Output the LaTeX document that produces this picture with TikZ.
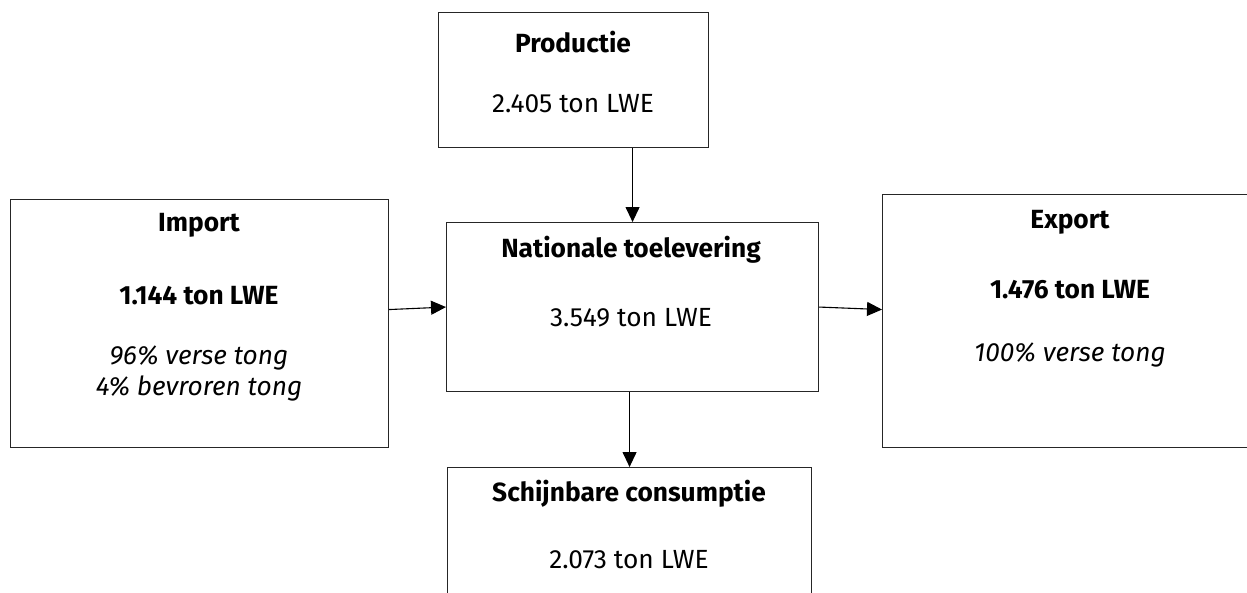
\documentclass[tikz,border=0pt]{standalone}
\usepackage{fontspec}
\setmainfont{Fira Sans}
\usetikzlibrary{arrows.meta}
\begin{document}
\begin{tikzpicture}[x=1pt,y=-1pt,
  box/.style={draw=black!85,line width=1.1pt,anchor=north west,inner sep=0pt},
  txt/.style={font=\fontsize{26.3}{30}\selectfont,inner sep=0pt,anchor=center},
  btxt/.style={txt,font=\fontsize{26.3}{30}\selectfont\bfseries},
  itxt/.style={txt,font=\fontsize{26.3}{30}\selectfont\itshape},
  arr/.style={line width=1.1pt,-{Triangle[length=15pt,width=14pt]}}]
\useasboundingbox (0,0) rectangle (1247,592);
\begin{scope}
\clip (0,0) rectangle (1247,592);
\node[box,minimum width=270pt,minimum height=135pt] (prod) at (438,12) {};
\node[box,minimum width=378pt,minimum height=248pt] (imp) at (10,199) {};
\node[box,minimum width=372pt,minimum height=169pt] (nat) at (446,222) {};
\node[box,minimum width=380pt,minimum height=253pt] (exp) at (882,194) {};
\node[box,minimum width=364pt,minimum height=160pt] (cons) at (447,467) {};
\end{scope}
\node[btxt] (t1) at (573,42) {Productie};
\node[txt] (t2) at (573,104) {2.405 ton LWE};
\node[btxt] (t3) at (199,225) {Import};
\node[btxt] (t4) at (199,296) {1.144 ton LWE};
\node[itxt] (t5) at (199,358) {96\% verse tong};
\node[itxt] (t6) at (199,388) {4\% bevroren tong};
\node[btxt] (t7) at (631,250) {Nationale toelevering};
\node[txt] (t8) at (631,318) {3.549 ton LWE};
\node[btxt] (t9) at (1070,222) {Export};
\node[btxt] (t10) at (1070,290) {1.476 ton LWE};
\node[itxt] (t11) at (1070,355) {100\% verse tong};
\node[btxt] (t12) at (629,494) {Schijnbare consumptie};
\node[txt] (t13) at (629,560) {2.073 ton LWE};
\draw[arr] (prod.south -| nat.north) -- (nat.north);
\draw[arr] ([yshift=14pt]imp.east) -- (nat.west);
\draw[arr] (nat.east) -- ([yshift=11.5pt]exp.west);
\draw[arr] (nat.south -| cons.north) -- (cons.north);
\end{tikzpicture}
\end{document}
